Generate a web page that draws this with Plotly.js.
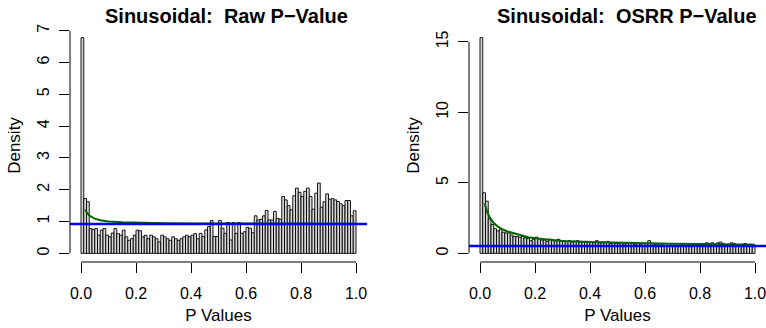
<!DOCTYPE html>
<html><head><meta charset="utf-8">
<script src="https://cdn.plot.ly/plotly-3.0.1.min.js"></script>
<style>html,body{margin:0;padding:0;background:#fff}#chart{width:766px;height:328px}</style>
</head><body><div id="chart"></div>
<script>
// ---- data ----
const binWidth = 0.01;
const rawDensity = [
  6.78,1.72,1.62,
  0.78,0.75,0.78,0.57,0.73,0.78,0.57,0.52,0.64,0.78,0.62,0.57,0.73,0.52,0.41,0.46,0.57,0.73,0.71,0.52,
  0.57,0.46,0.57,0.52,0.46,0.36,0.57,0.52,0.46,0.41,0.52,0.46,0.41,0.46,0.52,0.57,0.52,0.57,0.62,0.46,
  0.63,0.53,0.74,0.84,1.03,0.53,0.53,1.03,0.79,0.63,0.97,0.42,0.97,0.63,0.97,0.63,0.68,0.82,0.79,0.65,
  1.18,1.05,1.07,1.18,1.35,1.05,1.05,1.32,1.10,1.07,
  1.79,1.68,1.50,1.37,1.81,2.05,1.92,1.79,1.95,2.05,1.79,1.39,1.89,2.21,1.45,1.62,1.87,1.70,1.72,1.68,1.63,1.56,1.50,1.66,1.66,1.18,1.34
];
const osrrDensity = [
  15.3,4.3,3.7,
  2.45,2.05,1.75,1.60,1.70,1.50,1.45,1.45,1.30,1.20,1.20,1.15,1.20,1.10,1.05,0.90,1.00,
  1.15,1.05,0.95,0.95,0.85,1.00,0.90,0.90,1.00,0.85,0.90,0.85,0.90,0.80,0.85,0.90,0.80,0.80,0.85,0.80,
  0.80,0.75,0.90,0.75,0.80,0.75,0.85,0.70,0.75,0.70,0.70,0.75,0.65,0.70,0.75,0.70,0.65,0.70,0.65,0.70,
  0.70,0.90,0.70,0.65,0.60,0.70,0.60,0.55,0.50,0.60,0.55,0.50,0.55,0.60,0.50,0.55,0.50,0.60,0.55,0.55,
  0.60,0.70,0.75,0.70,0.75,0.60,0.75,0.80,0.70,0.60,0.65,0.75,0.70,0.60,0.55,0.65,0.70,0.60,0.65,0.60
];
const rawFitX = [0.016,0.02,0.03,0.04,0.05,0.07,0.1,0.15,0.2,0.25,0.3,0.4,0.5,0.6,0.7,0.8,0.9,1.0];
const rawFitY = [1.38,1.30,1.19,1.13,1.09,1.04,1.00,0.98,0.965,0.955,0.95,0.942,0.937,0.934,0.932,0.93,0.929,0.928];
const osrrFitX = [0.017,0.025,0.035,0.05,0.065,0.08,0.1,0.125,0.15,0.175,0.2,0.25,0.3,0.4,0.5,0.6,0.7,0.8,0.9,1.0];
const osrrFitY = [3.55,3.00,2.55,2.15,1.90,1.72,1.55,1.40,1.27,1.15,1.07,0.95,0.88,0.80,0.75,0.71,0.68,0.66,0.64,0.62];
const rawPi0 = 0.92;
const osrrPi0 = 0.52;
const xTickVals = [0,0.2,0.4,0.6,0.8,1.0];
const xTickText = ['0.0','0.2','0.4','0.6','0.8','1.0'];
const rawYTicks = [0,1,2,3,4,5,6,7];
const osrrYTicks = [0,5,10,15];
const titles = ['Sinusoidal:  Raw P\u2212Value','Sinusoidal:  OSRR P\u2212Value'];

// ---- build ----
const centers = rawDensity.map((_, i) => (i + 0.5) * binWidth);
const FONT = 'Liberation Sans, Arial, Helvetica, sans-serif';
function bars(y, xa, ya){
  return {type:'bar', x:centers, y:y, width:binWidth, xaxis:xa, yaxis:ya,
    marker:{color:'#d6d6d6', line:{color:'#000', width:0.9}}, hoverinfo:'skip', showlegend:false};
}
function line(x, y, color, w, xa, ya){
  return {type:'scatter', mode:'lines', x:x, y:y, xaxis:xa, yaxis:ya,
    line:{color:color, width:w}, hoverinfo:'skip', showlegend:false};
}
const traces = [
  bars(rawDensity,'x','y'),
  line(rawFitX, rawFitY, '#006400', 2, 'x','y'),
  line([-0.04,1.04],[rawPi0,rawPi0],'#0000ff',2.5,'x','y'),
  bars(osrrDensity,'x2','y2'),
  line(osrrFitX, osrrFitY, '#006400', 2, 'x2','y2'),
  line([-0.04,1.04],[osrrPi0,osrrPi0],'#0000ff',2.5,'x2','y2')
];
function ext(max){ return [-0.04*max, max*1.04]; }
const rawMax = Math.max(...rawDensity), osrrMax = Math.max(...osrrDensity);
const yDom = [(328-262)/328, (328-29)/328];
const xCommon = {range:[-0.04,1.04], tickvals:xTickVals, ticktext:xTickText, ticks:'outside', ticklen:10,
  tickcolor:'#000', tickwidth:1, showgrid:false, zeroline:false, showline:false, ticklabelstandoff:7,
  ticklabeloverflow:'allow',
  tickfont:{family:FONT, size:16, color:'#000'},
  title:{text:'P Values', font:{family:FONT, size:17, color:'#000'}, standoff:7}};
const yCommon = {ticks:'outside', ticklen:10, tickcolor:'#000', tickwidth:1, showgrid:false, zeroline:false,
  showline:false, tickangle:-90, ticklabelstandoff:4, tickfont:{family:FONT, size:16, color:'#000'},
  title:{text:'Density', font:{family:FONT, size:17, color:'#000'}, standoff:9}};
const layout = {
  width:766, height:328, margin:{l:0,r:0,t:0,b:0}, paper_bgcolor:'#fff', plot_bgcolor:'rgba(0,0,0,0)',
  bargap:0, showlegend:false,
  xaxis: Object.assign({}, xCommon, {domain:[70/766, 367/766], anchor:'y'}),
  yaxis: Object.assign({}, yCommon, {domain:yDom, range:ext(rawMax), tickvals:rawYTicks, anchor:'x'}),
  xaxis2: Object.assign({}, xCommon, {domain:[469/766, 1], anchor:'y2'}),
  yaxis2: Object.assign({}, yCommon, {domain:yDom, range:ext(osrrMax), tickvals:osrrYTicks, anchor:'x2'}),
  shapes:[
    {type:'line', xref:'x', yref:'y domain', x0:0, x1:1, y0:0, y1:0, line:{color:'#000', width:1}},
    {type:'line', xref:'x domain', yref:'y', x0:0, x1:0, y0:0, y1:7, line:{color:'#000', width:1}},
    {type:'line', xref:'x2', yref:'y2 domain', x0:0, x1:1, y0:0, y1:0, line:{color:'#000', width:1}},
    {type:'line', xref:'x2 domain', yref:'y2', x0:0, x1:0, y0:0, y1:15, line:{color:'#000', width:1}}
  ],
  annotations:[
    {text:titles[0], xref:'x domain', yref:'paper', x:0.5, y:1-16/328, xanchor:'center', yanchor:'middle',
     xshift:8, showarrow:false, font:{family:FONT, size:20, weight:'bold', color:'#000'}},
    {text:titles[1], xref:'x2 domain', yref:'paper', x:0.5, y:1-16/328, xanchor:'center', yanchor:'middle',
     xshift:9, showarrow:false, font:{family:FONT, size:20, weight:'bold', color:'#000'}}
  ]
};
Plotly.newPlot('chart', traces, layout, {staticPlot:true, displayModeBar:false});
</script>
</body></html>
